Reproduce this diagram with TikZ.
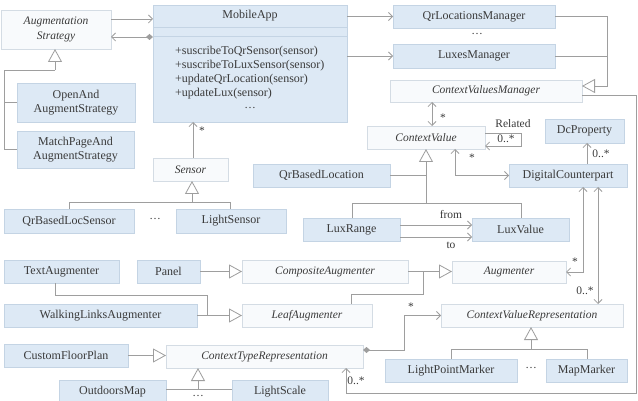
\documentclass[tikz,border=0pt]{standalone}
\usepackage{fontspec}
\setmainfont{Liberation Serif}
\usetikzlibrary{arrows.meta}
\definecolor{bluefill}{RGB}{221,233,245}
\definecolor{blueborder}{RGB}{196,212,228}
\definecolor{whitefill}{RGB}{248,250,252}
\definecolor{whiteborder}{RGB}{212,220,228}
\definecolor{linecol}{RGB}{158,158,158}
\definecolor{txt}{RGB}{58,58,58}
\tikzset{
  basebox/.style={line width=0.8pt, inner sep=0pt, outer sep=0pt, text=txt, align=center,
    font=\fontsize{12}{14.5}\selectfont},
  bluebox/.style={basebox, fill=bluefill, draw=blueborder},
  whitebox/.style={basebox, fill=whitefill, draw=whiteborder, font=\fontsize{11.5}{14.5}\selectfont\itshape},
  lbl/.style={inner sep=0pt, text=txt, font=\fontsize{11.5}{13}\selectfont},
  conn/.style={draw=linecol, line width=0.8pt},
  arr/.style={conn, -{Straight Barb[length=4pt,width=8pt]}},
  arrboth/.style={conn, {Straight Barb[length=4pt,width=8pt]}-{Straight Barb[length=4pt,width=8pt]}},
  comp/.style={conn, {Diamond[length=7pt,width=6pt]}-{Straight Barb[length=4pt,width=8pt]}},
  gen/.style={conn, -{Triangle[length=13pt,width=14pt,fill=white]}},
}
\newcommand\bx[7]{\node[#6, minimum width={#4-#2}, minimum height={#5-#3}] (#1) at ({(#2+#4)/2},{(#3+#5)/2}) {#7};}
\begin{document}
\begin{tikzpicture}[x=1pt,y=-1pt]
\useasboundingbox[fill=white] (0,0) rectangle (638,401);
% boxes
\bx{aug}{1}{10}{111}{49}{whitebox}{Augmentation\\Strategy}
\bx{mob}{153}{5}{347}{122}{bluebox}{}
\draw[blueborder, line width=0.8pt] (mob.west|-0,27) -- (mob.east|-0,27);
\draw[blueborder, line width=0.8pt] (mob.west|-0,36) -- (mob.east|-0,36);
\node[lbl, font=\fontsize{12}{14}\selectfont] (mobt) at (250,16) {MobileApp};
\node[lbl, font=\fontsize{12}{14}\selectfont, align=left, anchor=west] (mobm) at (175,73)
  {+suscribeToQrSensor(sensor)\\+suscribeToLuxSensor(sensor)\\+updateQrLocation(sensor)\\+updateLux(sensor)};
\node[lbl] (mobd) at (250,108) {\dots};
\bx{qrm}{393}{5}{555}{28}{bluebox}{QrLocationsManager}
\node[lbl] (d1) at (477,34) {\dots};
\bx{lux}{393}{44}{555}{68}{bluebox}{LuxesManager}
\bx{cvm}{390}{80}{582}{102}{whitebox}{ContextValuesManager}
\bx{cv}{367}{126}{485}{149}{whitebox}{ContextValue}
\bx{dcp}{545}{119}{624}{143}{bluebox}{DcProperty}
\bx{dc}{509}{164}{627}{187}{bluebox}{DigitalCounterpart}
\bx{qbl}{253}{164}{390}{187}{bluebox}{QrBasedLocation}
\bx{lr}{303}{218}{400}{241}{bluebox}{LuxRange}
\bx{lv}{472}{218}{569}{241}{bluebox}{LuxValue}
\bx{oas}{17}{83}{135}{122}{bluebox}{OpenAnd\\AugmentStrategy}
\bx{mpas}{17}{131}{134}{168}{bluebox}{MatchPageAnd\\AugmentStrategy}
\bx{sen}{153}{158}{228}{181}{whitebox}{Sensor}
\bx{qbls}{4}{209}{134}{233}{bluebox}{QrBasedLocSensor}
\node[lbl] (d2) at (155,219) {\dots};
\bx{ls}{176}{209}{286}{233}{bluebox}{LightSensor}
\bx{ta}{4}{260}{119}{283}{bluebox}{TextAugmenter}
\bx{pan}{137}{260}{200}{283}{bluebox}{Panel}
\bx{ca}{242}{260}{408}{283}{whitebox}{CompositeAugmenter}
\bx{augm}{452}{261}{566}{283}{whitebox}{Augmenter}
\bx{wla}{4}{304}{197}{327}{bluebox}{WalkingLinksAugmenter}
\bx{la}{242}{304}{372}{327}{whitebox}{LeafAugmenter}
\bx{cvr}{441}{304}{623}{327}{whitebox}{ContextValueRepresentation}
\bx{cfp}{4}{344}{128}{367}{bluebox}{CustomFloorPlan}
\bx{ctr}{166}{345}{363}{368}{whitebox}{ContextTypeRepresentation}
\bx{lpm}{385}{359}{517}{382}{bluebox}{LightPointMarker}
\node[lbl] (d3) at (531,368) {\dots};
\bx{mm}{546}{359}{627}{382}{bluebox}{MapMarker}
\bx{om}{59}{380}{166}{403}{bluebox}{OutdoorsMap}
\bx{lsc}{232}{380}{328}{403}{bluebox}{LightScale}
\node[lbl] (d4) at (198,396) {\dots};
% connectors
\draw[arr] (aug.east|-0,19) -- (mob.west|-0,19);
\draw[comp] (mob.west|-0,37) -- (aug.east|-0,37);
\draw[arr] (mob.east|-qrm.west) -- (qrm.west);
\draw[arr] (mob.east|-lux.west) -- (lux.west);
\draw[gen] (qrm.east) -- (qrm.east -| 607,0) |- (cvm.east |- 0,86);
\draw[conn] (lux.east) -- (lux.east -| 607,0);
\draw[arr] (cvm.east|-0,95) -- (636,95) -- (636,393) -- (346,393) -- (ctr.south -| 346,0);
\node[lbl] (l1) at (356,381) {0..*};
\draw[arrboth] (cvm.south -| 432,0) -- (cv.north -| 432,0);
\node[lbl] (l2) at (443,118) {*};
\draw[arr] (cv.east|-0,133) -- (521,133) -- (521,146) -- (cv.east|-0,146);
\node[lbl] (l3) at (513,124) {Related};
\node[lbl] (l4) at (506,139) {0..*};
\draw[arr] (dc.north -| 587,0) -- (dcp.south -| 587,0);
\node[lbl] (l5) at (601,154) {0..*};
\draw[arrboth] (cv.south -| 455,0) |- (dc.west);
\node[lbl] (l6) at (472,158) {*};
\draw[gen] (426,203) -- (cv.south -| 426,0);
\draw[conn] (qbl.east) -- (qbl.east -| 426,0);
\draw[conn] (lr.north -| 352,0) -- ++(0,-15) -| (lv.north -| 521,0);
\draw[arr] (lr.east|-0,225) -- (lv.west|-0,225);
\draw[arr] (lr.east|-0,237) -- (lv.west|-0,237);
\node[lbl] (l7) at (451,215) {from};
\node[lbl] (l8) at (451,245) {to};
\draw[arrboth] (dc.south -| 583,0) |- (augm.east);
\node[lbl] (l9) at (575,262) {*};
\draw[arrboth] (dc.south -| 598,0) -- (cvr.north -| 598,0);
\node[lbl] (l10) at (585,291) {0..*};
\draw[gen] (ca.east) -- (ca.east -| augm.west);
\draw[conn] (la.north -| 351,0) -- ++(0,-10) -| (ca.east -| 423,0);
\draw[gen] (pan.east) -- (pan.east -| ca.west);
\draw[gen] (wla.east) -- (wla.east -| la.west);
\draw[conn] (ta.south -| 55,0) -- ++(0,12) -| (wla.east -| 207,0);
\draw[gen] (cfp.east) -- (cfp.east -| ctr.west);
\draw[gen] (198,389) -- (ctr.south -| 198,0);
\draw[conn] (om.east|-0,389) -- (lsc.west|-0,389);
\draw[comp] (ctr.east|-0,350) -- (404,350) |- (cvr.west);
\node[lbl] (l11) at (411,307) {*};
\draw[gen] (531,349) -- (cvr.south -| 531,0);
\draw[conn] (lpm.north -| 451,0) -- ++(0,-10) -| (mm.north -| 587,0);
\draw[arr] (sen.north -| 193,0) -- (mob.south -| 193,0);
\node[lbl] (l12) at (202,131) {*};
\draw[gen] (192,202) -- (sen.south -| 192,0);
\draw[conn] (qbls.north -| 69,0) -- ++(0,-7) -| (ls.north -| 230,0);
\draw[gen] (55,70) -- (aug.south -| 55,0);
\draw[conn] (55,70) -- (4,70) |- (mpas.west);
\draw[conn] (4,102) -- (oas.west|-0,102);
\end{tikzpicture}
\end{document}
